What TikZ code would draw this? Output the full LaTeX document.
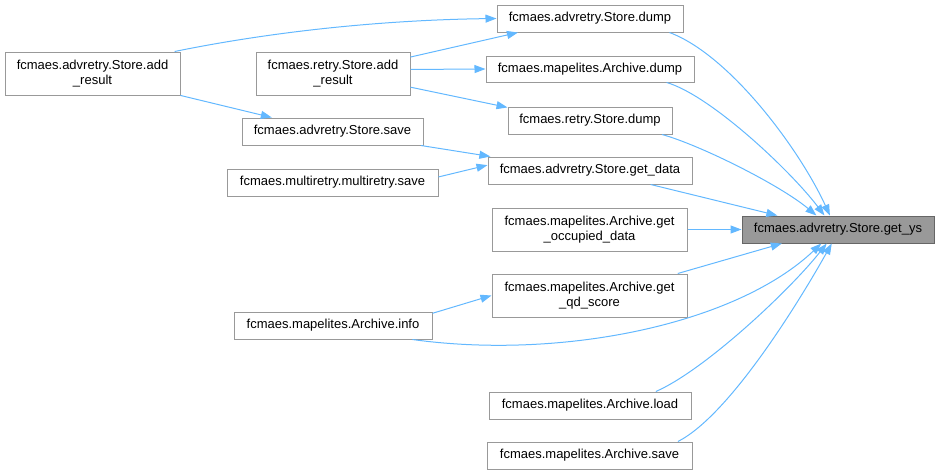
\documentclass[tikz,border=0pt]{standalone}
\usepackage{fontspec}
\setmainfont{Liberation Sans}
\usetikzlibrary{arrows.meta}
\definecolor{edgeblue}{HTML}{63B8FF}
\definecolor{boxgray}{HTML}{999999}
\definecolor{boxdark}{HTML}{666666}

\begin{document}
\begin{tikzpicture}[x = 1pt, y = -1pt,
        fn/.style = {draw = boxgray, line width = 1pt, fill = white, inner sep = 0pt, align = center,
            font = \fontsize{13}{15.7}\selectfont},
        hl/.style = {fn, draw = boxdark, fill = boxgray},
        call/.style = {draw = edgeblue, line width = 1pt, -{Triangle[length = 11pt, width = 8pt]}}]
                \useasboundingbox (0,0) rectangle (940,475);
                % callers, left column
                \node[fn, minimum width = 175pt, minimum height = 43pt](aadd)at(92.5,73.5){fcmaes.advretry.Store.add\\\_result};
                \node[fn, minimum width = 154pt, minimum height = 43pt](radd)at(333,73.5){fcmaes.retry.Store.add\\\_result};
                \node[fn, minimum width = 181pt, minimum height = 27pt](asave)at(332.5,131.5){fcmaes.advretry.Store.save};
                \node[fn, minimum width = 211pt, minimum height = 27pt](msave)at(332.5,182.5){fcmaes.multiretry.multiretry.save};
                \node[fn, minimum width = 198pt, minimum height = 27pt](info)at(333,325.5){fcmaes.mapelites.Archive.info};
                % callers, middle column
                \node[fn, minimum width = 186pt, minimum height = 27pt](adump)at(590,18.5){fcmaes.advretry.Store.dump};
                \node[fn, minimum width = 208pt, minimum height = 26pt](mdump)at(590,69){fcmaes.mapelites.Archive.dump};
                \node[fn, minimum width = 164pt, minimum height = 27pt](rdump)at(590,120.5){fcmaes.retry.Store.dump};
                \node[fn, minimum width = 204pt, minimum height = 27pt](getdata)at(590,170.5){fcmaes.advretry.Store.get\_data};
                \node[fn, minimum width = 195pt, minimum height = 43pt](occ)at(589.5,229.5){fcmaes.mapelites.Archive.get\\\_occupied\_data};
                \node[fn, minimum width = 195pt, minimum height = 43pt](qd)at(589.5,295.5){fcmaes.mapelites.Archive.get\\\_qd\_score};
                \node[fn, minimum width = 202pt, minimum height = 27pt](load)at(590,405.5){fcmaes.mapelites.Archive.load};
                \node[fn, minimum width = 205pt, minimum height = 27pt](save)at(589.5,455.5){fcmaes.mapelites.Archive.save};
                % the function itself
                \node[hl, minimum width = 192pt, minimum height = 27pt](ys)at(838,229.5){fcmaes.advretry.Store.get\_ys};
                % calls among the callers
                \path[draw, call](aadd.15) .. controls (270,32) and (380,20) .. (adump.west);
                \path[draw, call](radd.12)to(adump.191);
                \path[draw, call](radd.3)to(mdump.west);
                \path[draw, call](radd.350)to(rdump.171);
                \path[draw, call](aadd.346)to(asave.167);
                \path[draw, call](asave.351)to(getdata.172);
                \path[draw, call](msave.3)to(getdata.177);
                \path[draw, call](info.7)to(qd.west);
                % calls into get_ys
                \path[draw, call](adump.350) .. controls (730,55) and (800,150) .. (ys.120);
                \path[draw, call](mdump.350) .. controls (710,95) and (790,170) .. (ys.134);
                \path[draw, call](rdump.349) .. controls (700,145) and (780,185) .. (ys.147);
                \path[draw, call](getdata.347)to(ys.167);
                \path[draw, call](occ.east)to(ys.west);
                \path[draw, call](qd.14)to(ys.194);
                \path[draw, call](info.350) .. controls (560,360) and (735,325) .. (ys.220);
                \path[draw, call](load.12) .. controls (705,370) and (790,290) .. (ys.231);
                \path[draw, call](save.9) .. controls (730,415) and (800,300) .. (ys.246);
            \end{tikzpicture}
\end{document}
